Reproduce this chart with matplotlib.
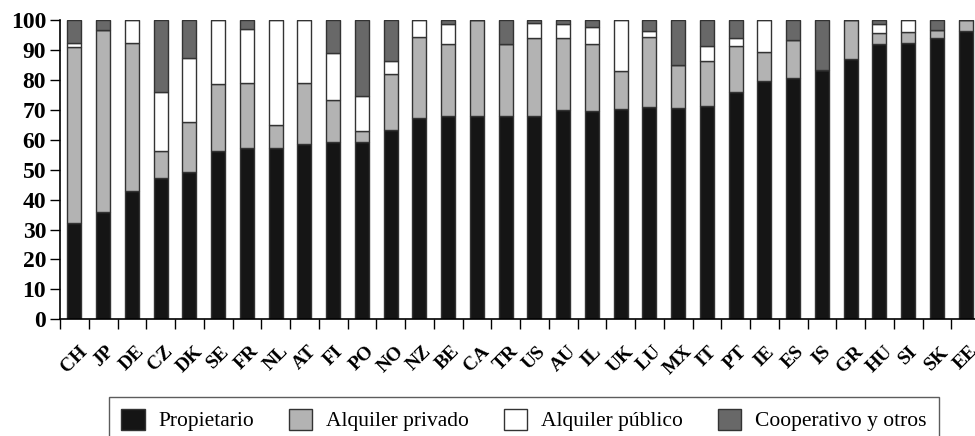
import numpy as np
import matplotlib.pyplot as plt
from matplotlib.patches import Patch
from matplotlib.ticker import FixedLocator

# --- Data (percent of households by tenure) ---
countries = ["CH", "JP", "DE", "CZ", "DK", "SE", "FR", "NL", "AT", "FI", "PO",
             "NO", "NZ", "BE", "CA", "TR", "US", "AU", "IL", "UK", "LU", "MX",
             "IT", "PT", "IE", "ES", "IS", "GR", "HU", "SI", "SK", "EE"]
propietario = [32.3, 35.8, 42.9, 47.1, 49.1, 56.1, 57.1, 57.4, 58.7, 59.3, 59.3,
               63.1, 67.3, 67.9, 67.9, 67.9, 67.9, 69.9, 69.6, 70.4, 70.8, 70.6,
               71.4, 75.9, 79.6, 80.5, 83.2, 86.9, 92.1, 92.2, 93.9, 96.2]
alquiler_privado = [58.7, 60.7, 49.5, 9.0, 16.8, 22.5, 21.7, 7.5, 20.3, 13.9, 3.6,
                    18.9, 27.1, 24.0, 32.1, 24.2, 26.1, 24.1, 22.4, 12.7, 23.4, 14.3,
                    14.9, 15.3, 9.6, 12.8, 0.0, 13.1, 3.5, 3.8, 2.6, 3.8]
alquiler_publico = [1.4, 0.0, 7.6, 19.8, 21.3, 21.4, 18.2, 35.1, 21.0, 15.9, 11.6,
                    4.2, 5.6, 6.8, 0.0, 0.0, 5.1, 4.7, 5.8, 16.9, 2.2, 0.0,
                    5.0, 2.7, 10.8, 0.0, 0.0, 0.0, 3.0, 4.0, 0.0, 0.0]
cooperativo = [7.6, 3.5, 0.0, 24.1, 12.8, 0.0, 3.0, 0.0, 0.0, 10.9, 25.5,
               13.8, 0.0, 1.3, 0.0, 7.9, 0.9, 1.3, 2.2, 0.0, 3.6, 15.1,
               8.7, 6.1, 0.0, 6.7, 16.8, 0.0, 1.4, 0.0, 3.5, 0.0]

series = [
    ("Propietario", propietario, "#151515"),
    ("Alquiler privado", alquiler_privado, "#b3b3b3"),
    ("Alquiler público", alquiler_publico, "#ffffff"),
    ("Cooperativo y otros", cooperativo, "#686868"),
]

plt.rcParams["font.family"] = ["Liberation Serif", "DejaVu Serif"]

fig = plt.figure(figsize=(9.75, 4.36), dpi=100)
# axes runs a bit past the right edge, as in the original (EE is cut off)
ax = fig.add_axes([60 / 975, (436 - 319.3) / 436, 920 / 975, 299.3 / 436])

x = np.arange(len(countries))
bottom = np.zeros(len(countries))
for name, vals, col in series:
    vals = np.array(vals)
    ax.bar(x, vals, width=0.48, bottom=bottom, color=col,
           edgecolor="#333333", linewidth=1.0, label=name)
    bottom += vals

ax.set_xlim(-0.5, len(countries) - 0.5)
ax.set_ylim(0, 100)
ax.set_yticks(np.arange(0, 101, 10))
ax.tick_params(axis="y", direction="out", length=7, width=1, labelsize=17, pad=3)
for lbl in ax.get_yticklabels():
    lbl.set_fontweight("bold")

ax.set_xticks(x)
ax.set_xticklabels(countries, rotation=45, fontweight="bold", fontsize=14,
                   ha="center", va="top")
ax.tick_params(axis="x", which="major", length=0, pad=17)
ax.xaxis.set_minor_locator(FixedLocator(np.arange(-0.5, len(countries), 1.0)))
ax.tick_params(axis="x", which="minor", direction="out", length=7, width=1)

for s in ["top", "right"]:
    ax.spines[s].set_visible(False)
for s in ["left", "bottom"]:
    ax.spines[s].set_linewidth(1.2)

handles = [Patch(facecolor=col, edgecolor="#333333", label=name) for name, _, col in series]
leg = fig.legend(handles=handles, loc="upper left", ncol=4,
                 bbox_to_anchor=(109 / 975, 1 - 397 / 436), fontsize=15.5,
                 frameon=True, fancybox=False, edgecolor="#333333",
                 handlelength=1.1, handleheight=1.1, columnspacing=1.6,
                 handletextpad=0.65, borderpad=0.55, borderaxespad=0)
leg.get_frame().set_linewidth(1.0)

fig.savefig("out.png", dpi=100)
